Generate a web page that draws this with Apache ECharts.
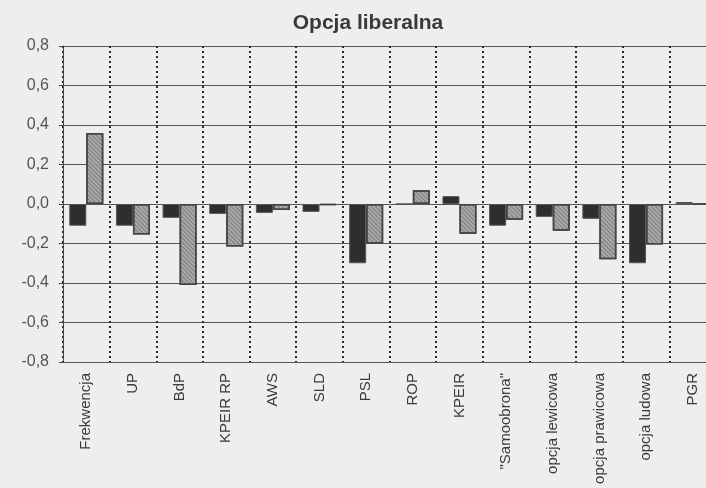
<!DOCTYPE html>
<html>
<head>
<meta charset="utf-8">
<script src="https://cdn.jsdelivr.net/npm/echarts@6/dist/echarts.min.js"></script>
<style>
  html, body { margin: 0; padding: 0; background: #eeeeee; overflow: hidden; }
  #chart { width: 716px; height: 488px; }
</style>
</head>
<body>
<div id="chart"></div>
<script>
const categories = [
  "Frekwencja", "UP", "BdP", "KPEIR RP", "AWS", "SLD", "PSL", "ROP",
  "KPEIR", "\"Samoobrona\"", "opcja lewicowa", "opcja prawicowa", "opcja ludowa", "PGR"
];
const darkValues = [-0.11, -0.11, -0.07, -0.05, -0.045, -0.04, -0.3, 0, 0.04, -0.11, -0.065, -0.075, -0.3, 0.01];
const hatchedValues = [0.36, -0.155, -0.41, -0.215, -0.03, -0.005, -0.2, 0.07, -0.15, -0.08, -0.135, -0.28, -0.205, 0];
const yTicks = [-0.8, -0.6, -0.4, -0.2, 0, 0.2, 0.4, 0.6, 0.8];

const chart = echarts.init(document.getElementById("chart"));

const option = {
  backgroundColor: "#eeeeee",
  animation: false,
  title: {
    text: "Opcja liberalna",
    left: 363,
    top: 8,
    textAlign: "center",
    textStyle: { fontFamily: "Liberation Sans", fontSize: 21, fontWeight: "bold", color: "#3a3a3a" },
  },
  // plot runs a little past the right edge of the window, as in the scan
  grid: { left: 63, right: 0, top: 46, bottom: 126 },
  xAxis: {
    type: "category",
    data: categories,
    axisLine: { show: false },
    axisTick: { show: false },
    axisLabel: {
      rotate: 90,
      interval: 0,
      margin: 11,
      fontFamily: "Liberation Sans",
      fontSize: 15,
      color: "#3a3a3a",
    },
    splitLine: {
      show: true,
      interval: 0,
      lineStyle: { color: "#2a2a2a", width: 2, type: [2, 3] },
    },
  },
  yAxis: {
    type: "value",
    min: yTicks[0],
    max: yTicks[yTicks.length - 1],
    interval: 0.2,
    axisLine: { show: true, lineStyle: { color: "#444", width: 1 } },
    axisTick: { show: true, length: 4, lineStyle: { color: "#444" } },
    axisLabel: {
      fontFamily: "Liberation Sans",
      fontSize: 16,
      color: "#555",
      margin: 14,
      formatter: (v) => v.toFixed(1).replace(".", ","),
    },
    splitLine: { show: true, lineStyle: { color: "#555", width: 1 } },
  },
  series: [
    {
      name: "dark",
      type: "bar",
      data: darkValues,
      barGap: "0%",
      barCategoryGap: "27%",
      itemStyle: { color: "#2e2e2e", borderColor: "#555", borderWidth: 1 },
    },
    {
      name: "hatched",
      type: "bar",
      data: hatchedValues,
      itemStyle: {
        color: "#a9a9a9",
        borderColor: "#444",
        borderWidth: 1.5,
        decal: {
          symbol: "rect",
          symbolSize: 1,
          dashArrayX: [1, 0],
          dashArrayY: [1, 2],
          rotation: Math.PI / 4,
          color: "rgba(70,70,70,0.45)",
        },
      },
    },
  ],
};

chart.setOption(option);
</script>
</body>
</html>
